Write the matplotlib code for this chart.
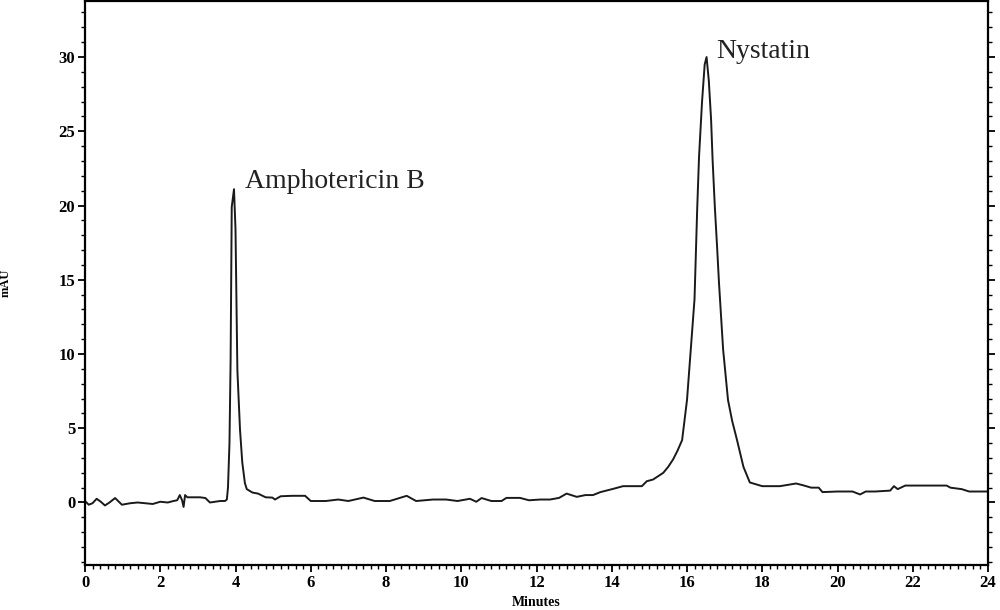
import matplotlib.pyplot as plt
from matplotlib.ticker import MultipleLocator

# chromatogram trace (minutes, mAU)
minutes = [0.0, 0.1, 0.2, 0.31, 0.42, 0.53, 0.65, 0.8, 0.98, 1.2, 1.4, 1.6, 1.8, 2.0,
           2.2, 2.35, 2.45, 2.52, 2.58, 2.62, 2.66, 2.72, 2.9, 3.06, 3.2, 3.32, 3.45,
           3.59, 3.72, 3.77, 3.80, 3.84, 3.87, 3.90, 3.96, 4.00, 4.05, 4.12, 4.18,
           4.25, 4.3, 4.45, 4.6, 4.8, 4.98, 5.05, 5.2, 5.5, 5.85, 6.0, 6.4, 6.73,
           7.0, 7.4, 7.7, 8.1, 8.55, 8.8, 9.25, 9.6, 9.9, 10.23, 10.4, 10.54, 10.8,
           11.07, 11.2, 11.56, 11.8, 12.1, 12.36, 12.6, 12.8, 13.07, 13.3, 13.5,
           13.7, 14.04, 14.3, 14.6, 14.8, 14.93, 15.1, 15.37, 15.5, 15.63, 15.75,
           15.87, 16.0, 16.1, 16.2, 16.27, 16.32, 16.4, 16.47, 16.52, 16.55, 16.58,
           16.64, 16.68, 16.74, 16.8, 16.85, 16.96, 17.09, 17.2, 17.33, 17.5, 17.67,
           17.8, 18.0, 18.47, 18.7, 18.9, 19.1, 19.3, 19.5, 19.6, 20.0, 20.4, 20.6,
           20.75, 21.0, 21.4, 21.5, 21.6, 21.8, 22.3, 22.9, 23.0, 23.3, 23.5, 24.0]
mau = [0.1, -0.15, -0.05, 0.25, 0.05, -0.2, 0.0, 0.3, -0.15, -0.05, 0.0, -0.05, -0.1, 0.05,
       0.0, 0.1, 0.15, 0.5, 0.15, -0.3, 0.5, 0.35, 0.35, 0.35, 0.3, 0.0, 0.05,
       0.1, 0.1, 0.2, 1.0, 4.0, 9.6, 19.9, 21.1, 18.4, 8.9, 4.9, 2.7,
       1.3, 0.9, 0.67, 0.6, 0.35, 0.33, 0.2, 0.42, 0.45, 0.45, 0.1, 0.1, 0.2,
       0.1, 0.33, 0.1, 0.1, 0.45, 0.1, 0.2, 0.2, 0.1, 0.25, 0.05, 0.3, 0.1,
       0.1, 0.31, 0.31, 0.15, 0.2, 0.2, 0.31, 0.6, 0.38, 0.5, 0.5,
       0.7, 0.92, 1.1, 1.1, 1.1, 1.43, 1.55, 2.0, 2.4, 2.9, 3.5,
       4.2, 6.9, 10.3, 13.7, 19.7, 23.3, 27.0, 29.5, 30.0, 29.2, 28.4,
       25.8, 23.1, 19.9, 17.2, 14.8, 10.3, 6.9, 5.5, 4.2, 2.4, 1.35,
       1.25, 1.1, 1.1, 1.2, 1.28, 1.15, 1.0, 1.0, 0.7, 0.74, 0.74, 0.54,
       0.74, 0.74, 0.8, 1.1, 0.9, 1.14, 1.14, 1.14, 1.0, 0.9, 0.74, 0.74]

peak_names = ['Amphotericin B', 'Nystatin']
peak_label_x = [4.25, 16.77]
peak_label_y = [21.6, 30.4]

x_ticks = list(range(0, 25, 2))
y_ticks = list(range(0, 31, 5))

plt.rcParams['font.family'] = ['Liberation Serif', 'DejaVu Serif']

fig = plt.figure(figsize=(10, 6.1), dpi=100)
ax = fig.add_axes([0.085, 0.074, 0.903, 0.925])

ax.plot(minutes, mau, color='#1a1a1a', lw=1.4)

for name, lx, ly in zip(peak_names, peak_label_x, peak_label_y):
    ax.text(lx, ly, name, fontsize=20, va='center', ha='left', color='#222222')

ax.set_xlim(0, 24)
ax.set_ylim(-4.2, 33.8)
ax.set_xticks(x_ticks)
ax.set_yticks(y_ticks)
ax.xaxis.set_minor_locator(MultipleLocator(0.2))
ax.yaxis.set_minor_locator(MultipleLocator(1))
ax.tick_params(axis='both', which='major', direction='out', length=5, width=1.3,
               labelsize=12, pad=2)
ax.tick_params(axis='both', which='minor', direction='out', length=3, width=1.0)
ax.tick_params(axis='y', which='both', right=True, labelright=False)
for lbl in ax.get_xticklabels() + ax.get_yticklabels():
    lbl.set_fontweight('bold')

for sp in ax.spines.values():
    sp.set_linewidth(1.6)

ax.set_xlabel('Minutes', fontsize=10, fontweight='bold')
ax.set_ylabel('mAU', fontsize=9, fontweight='bold')
ax.xaxis.set_label_coords(0.5, -0.056)
ax.yaxis.set_label_coords(-0.081, 0.5)

plt.savefig('out.png')
